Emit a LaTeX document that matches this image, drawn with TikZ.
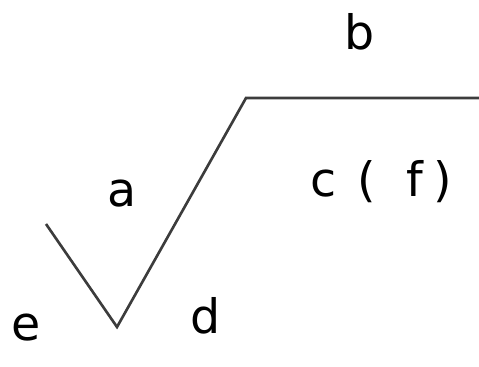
\documentclass[tikz,border=0pt]{standalone}
\usepackage{fontspec}
\setmainfont{DejaVu Sans}
\usepackage{tikz}
\usetikzlibrary{positioning}
\definecolor{signgray}{RGB}{60,60,60}

\begin{document}
\begin{tikzpicture}[
    x=0.02cm, y=-0.02cm,
    lbl/.style={anchor=base, inner sep=0pt, font=\fontsize{27}{32}\selectfont},
    signline/.style={draw=signgray, line width=1.5pt, line join=miter}
]
\useasboundingbox (0,0) rectangle (479,367);
\coordinate (start) at (46,224);
\coordinate (tip) at (117,327);
\coordinate (corner) at (246,98);
\coordinate (tail) at (479,98);

\node[lbl] (b) at (360,50) {b};
\node[lbl] (a) at (122,207) {a};
\node[lbl] (cf) at (381,197) {c\hspace{0.42cm}(\hspace{0.62cm}f\hspace{0.2cm})};
\node[lbl] (e) at (26,340) {e};
\node[lbl] (d) at (206,333) {d};

\draw[signline] (start) -- (tip) -- (corner) -- (tail);
\end{tikzpicture}
\end{document}
